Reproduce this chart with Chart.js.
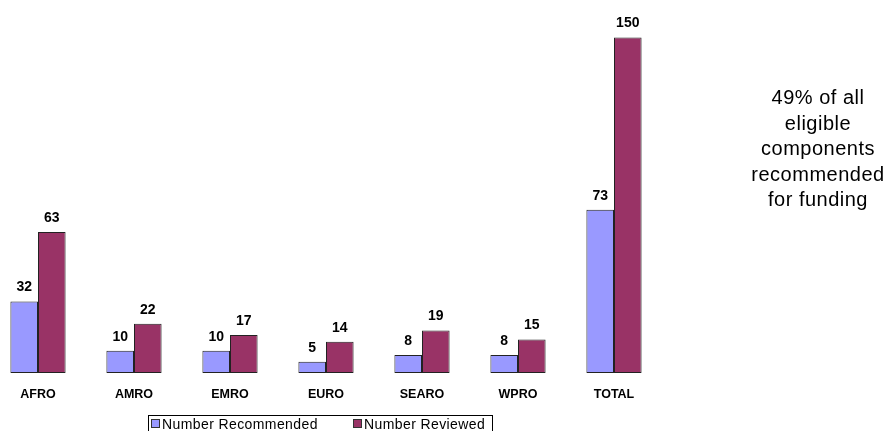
<!DOCTYPE html>
<html>
<head>
<meta charset="utf-8">
<script src="https://cdn.jsdelivr.net/npm/chart.js@4/dist/chart.umd.min.js"></script>
<style>
  html, body { margin: 0; padding: 0; background: #fff; }
  body { width: 886px; height: 431px; position: relative; overflow: hidden; font-family: "Liberation Sans", Arial, sans-serif; }
  #wrap { position: absolute; left: -10px; top: 0; width: 896px; height: 416px; }
  #note { position: absolute; left: 745px; top: 85px; width: 146px; text-align: center; font-size: 20px; letter-spacing: 0.5px; line-height: 25.5px; color: #000; }
  #legend { position: absolute; left: 148px; top: 415px; width: 345px; height: 22px; border: 1px solid #000; box-sizing: border-box; font-size: 14px; letter-spacing: 0.4px; color: #000; }
  .item { position: absolute; top: 0; display: flex; align-items: center; height: 15px; white-space: nowrap; }
  .swatch { width: 7px; height: 7px; border: 1px solid #333; margin-right: 2px; }
</style>
</head>
<body>
<div id="wrap"><canvas id="chart"></canvas></div>
<div id="note">49% of all<br>eligible<br>components<br>recommended<br>for funding</div>
<div id="legend"></div>
<script>
const regions = ["AFRO", "AMRO", "EMRO", "EURO", "SEARO", "WPRO", "TOTAL"];
const recommended = [32, 10, 10, 5, 8, 8, 73];
const reviewed = [63, 22, 17, 14, 19, 15, 150];
const seriesNames = ["Number Recommended", "Number Reviewed"];
const seriesColors = ["#9999FF", "#993366"];

// value labels above each bar
const valueLabels = {
  id: "valueLabels",
  afterDatasetsDraw(chart) {
    const ctx = chart.ctx;
    ctx.save();
    ctx.font = "bold 14px 'Liberation Sans', Arial, sans-serif";
    ctx.fillStyle = "#000";
    ctx.textAlign = "center";
    ctx.textBaseline = "alphabetic";
    chart.data.datasets.forEach((ds, i) => {
      chart.getDatasetMeta(i).data.forEach((bar, j) => {
        ctx.fillText(String(ds.data[j]), bar.x, bar.y - 10);
      });
    });
    ctx.restore();
  },
};

new Chart(document.getElementById("chart"), {
  type: "bar",
  data: {
    labels: regions,
    datasets: [
      { label: seriesNames[0], data: recommended, backgroundColor: seriesColors[0] },
      { label: seriesNames[1], data: reviewed, backgroundColor: seriesColors[1] },
    ],
  },
  options: {
    responsive: true,
    maintainAspectRatio: false,
    animation: false,
    layout: { padding: { top: 15, right: 224, left: 0, bottom: 0 } },
    datasets: {
      bar: {
        categoryPercentage: 0.575,
        barPercentage: 1,
        borderColor: "#222",
        borderWidth: 1,
        borderSkipped: false,
      },
    },
    scales: {
      x: {
        grid: { display: false, drawTicks: false },
        border: { display: false },
        ticks: {
          color: "#000",
          padding: 14,
          font: { family: "'Liberation Sans', Arial, sans-serif", size: 12.5, weight: "bold" },
        },
      },
      y: {
        display: false,
        min: 0,
        max: 160,
      },
    },
    plugins: {
      legend: { display: false },
      tooltip: { enabled: false },
    },
  },
  plugins: [valueLabels],
});

const legendLeft = [2, 204];
document.getElementById("legend").innerHTML = seriesNames
  .map((name, i) => `<div class="item" style="left:${legendLeft[i]}px"><span class="swatch" style="background:${seriesColors[i]}"></span>${name}</div>`)
  .join("");
</script>
</body>
</html>
